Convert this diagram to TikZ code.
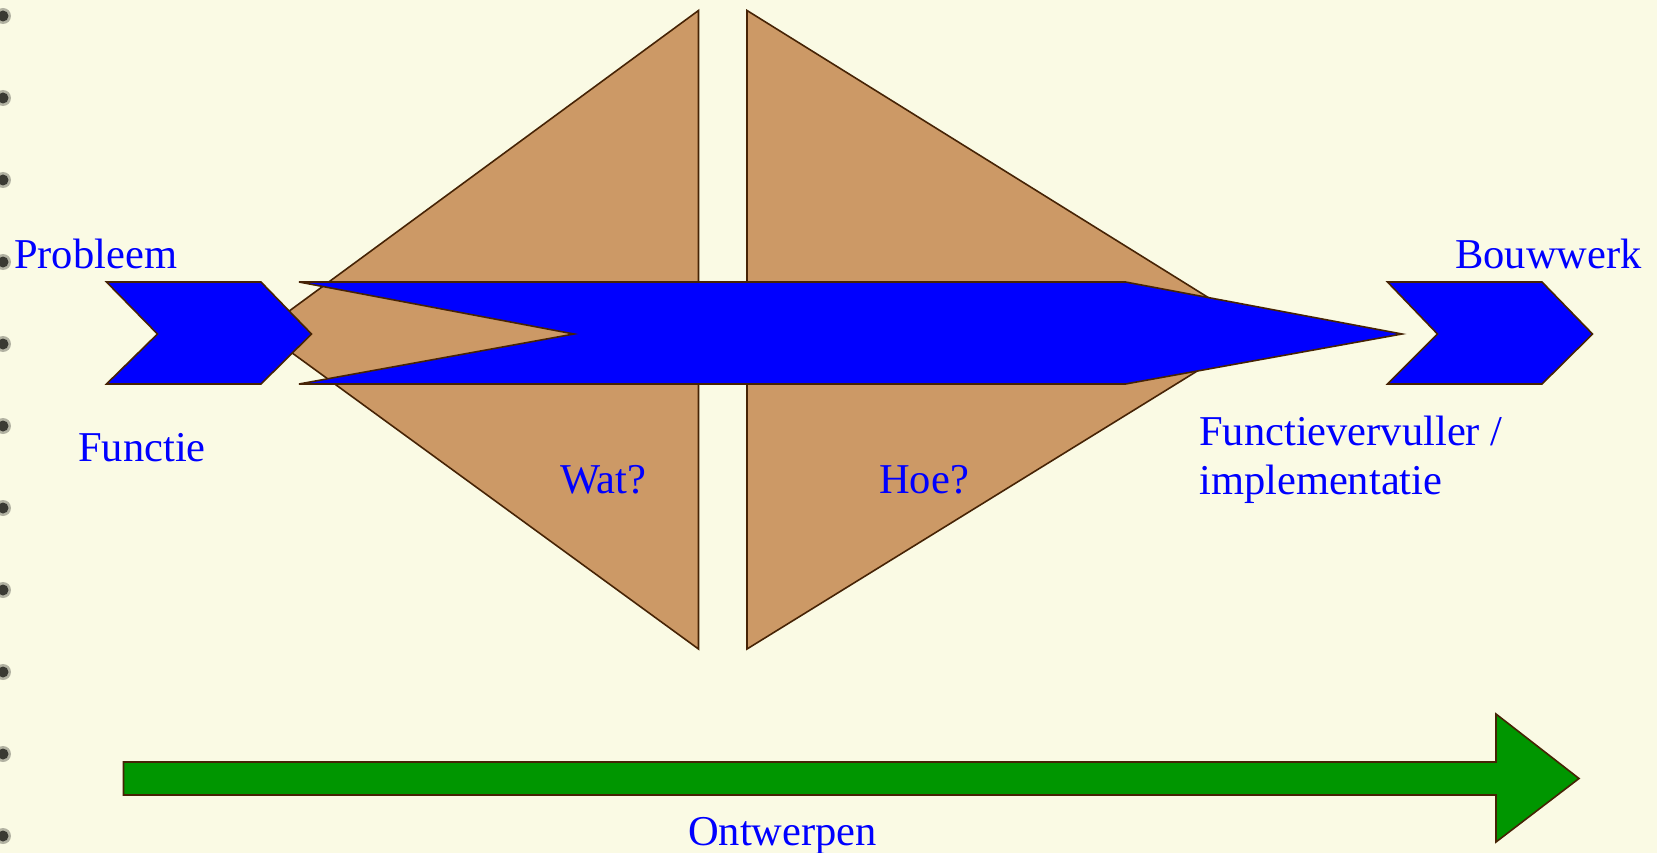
\documentclass[tikz,border=0pt]{standalone}
\usepackage{fontspec}
\setmainfont{Liberation Serif}
\definecolor{bgcream}{RGB}{250,250,228}
\definecolor{tanfill}{RGB}{204,153,102}
\definecolor{edgebrown}{RGB}{70,35,5}
\definecolor{arrowblue}{RGB}{0,0,255}
\definecolor{arrowgreen}{RGB}{0,150,0}
\definecolor{dotgray}{RGB}{45,45,40}
\begin{document}
\begin{tikzpicture}[x=1pt,y=-1pt,
  shapeedge/.style={draw=edgebrown,line width=1.6pt,line join=miter},
  tanshape/.style={shapeedge,fill=tanfill},
  blueshape/.style={shapeedge,fill=arrowblue},
  greenshape/.style={shapeedge,fill=arrowgreen},
  lbl/.style={text=arrowblue,font=\fontsize{42.5}{50}\selectfont,inner sep=0pt,anchor=base west},
  binderhalo/.style={fill=dotgray,draw=none,opacity=0.35},
  bindercore/.style={fill=dotgray,draw=none,opacity=0.9}]
\fill[bgcream] (0,0) rectangle (1657,853);
\useasboundingbox (0,0) rectangle (1657,853);
% binder dots on left edge
\foreach \i in {0,...,10}{
  \fill[binderhalo] (3,16+82*\i) circle (8);
  \fill[bindercore] (3,16+82*\i) circle (5.5);
}
% triangles
\draw[tanshape] (698.5,10.5) -- (262,331) -- (698.5,649) -- cycle;
\draw[tanshape] (747,10.5) -- (1262,331) -- (747,649) -- cycle;
% left chevron
\draw[blueshape] (106.5,282) -- (261,282) -- (311.5,334) -- (261,384) -- (106.5,384) -- (157.5,334) -- cycle;
% long blue arrow
\draw[blueshape] (299,282) -- (1125.5,282) -- (1402,334) -- (1125.5,384) -- (299,384) -- (574,334) -- cycle;
% right chevron
\draw[blueshape] (1387.5,282) -- (1542,282) -- (1592.5,334) -- (1542,384) -- (1387.5,384) -- (1437.5,334) -- cycle;
% green arrow
\draw[greenshape] (123.5,762) -- (1496,762) -- (1496,714) -- (1579,778.5) -- (1496,842) -- (1496,795) -- (123.5,795) -- cycle;
% labels
\node[lbl] (probleem) at (14,269) {Probleem};
\node[lbl] (bouwwerk) at (1455,268) {Bouwwerk};
\node[lbl] (functie) at (78,461) {Functie};
\node[lbl] (wat) at (560,493) {Wat?};
\node[lbl] (hoe) at (879,493) {Hoe?};
\node[lbl] (fv1) at (1199,445) {Functievervuller /};
\node[lbl] (fv2) at (1199,494) {implementatie};
\node[lbl] (ontwerpen) at (688,845) {Ontwerpen};
\end{tikzpicture}
\end{document}
